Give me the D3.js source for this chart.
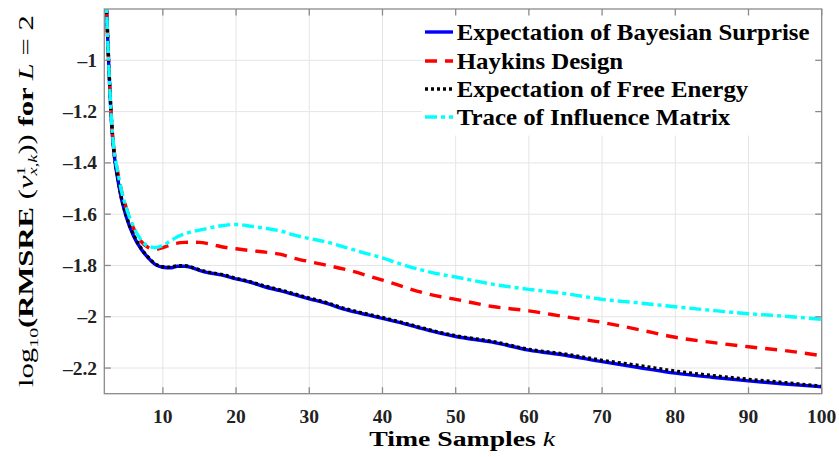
<!DOCTYPE html>
<html><head><meta charset="utf-8">
<script src="https://cdn.jsdelivr.net/npm/d3@7/dist/d3.min.js"></script>
<style>html,body{margin:0;padding:0;background:#fff;}svg{display:block;}</style>
</head><body>
<svg id="c" width="839" height="457"></svg>
<script>
const kVals = [2,3,4,5,6,7,8,9,10,11,12,13,14,15,16,17,18,20,22,24,26,28,30,32,35,38,40,42,45,48,50,55,60,65,70,75,80,85,90,95,100];
const bayesSurprise = [-0.55,-1.25,-1.49,-1.61,-1.685,-1.735,-1.77,-1.797,-1.807,-1.809,-1.803,-1.803,-1.809,-1.819,-1.827,-1.832,-1.837,-1.852,-1.866,-1.884,-1.898,-1.914,-1.93,-1.945,-1.972,-1.993,-2.006,-2.02,-2.043,-2.065,-2.077,-2.099,-2.13,-2.15,-2.175,-2.198,-2.22,-2.236,-2.25,-2.262,-2.273];
const haykins = [-0.55,-1.24,-1.46,-1.575,-1.655,-1.705,-1.73,-1.738,-1.73,-1.72,-1.713,-1.71,-1.709,-1.71,-1.714,-1.72,-1.727,-1.735,-1.742,-1.748,-1.756,-1.772,-1.785,-1.797,-1.816,-1.84,-1.857,-1.875,-1.902,-1.922,-1.932,-1.96,-1.977,-2.0,-2.022,-2.05,-2.08,-2.1,-2.117,-2.132,-2.152];
const freeEnergy = [-0.55,-1.24,-1.485,-1.605,-1.68,-1.732,-1.768,-1.795,-1.805,-1.807,-1.801,-1.801,-1.807,-1.817,-1.825,-1.83,-1.835,-1.85,-1.864,-1.881,-1.895,-1.911,-1.927,-1.942,-1.969,-1.99,-2.003,-2.017,-2.04,-2.062,-2.074,-2.096,-2.127,-2.146,-2.17,-2.19,-2.212,-2.229,-2.244,-2.257,-2.271];
const influence = [-0.55,-1.24,-1.46,-1.575,-1.65,-1.7,-1.725,-1.73,-1.722,-1.705,-1.688,-1.677,-1.668,-1.662,-1.656,-1.65,-1.645,-1.64,-1.647,-1.655,-1.665,-1.682,-1.695,-1.706,-1.73,-1.755,-1.77,-1.79,-1.815,-1.835,-1.845,-1.873,-1.893,-1.91,-1.932,-1.946,-1.961,-1.975,-1.988,-1.998,-2.01];
const seriesNames = ["Expectation of Bayesian Surprise","Haykins Design","Expectation of Free Energy","Trace of Influence Matrix"];
const xTicks = [10,20,30,40,50,60,70,80,90,100];
const yTicks = [-2.2,-2,-1.8,-1.6,-1.4,-1.2,-1];
const yTickLabels = ["–2.2","–2","–1.8","–1.6","–1.4","–1.2","–1"];

const series = [
  {name: seriesNames[0], vals: bayesSurprise, color: "#0000ff", dash: null},
  {name: seriesNames[1], vals: haykins, color: "#ff0000", dash: "12,8"},
  {name: seriesNames[2], vals: freeEnergy, color: "#000000", dash: "3,3"},
  {name: seriesNames[3], vals: influence, color: "#00ffff", dash: "12,4,4,4"}
];

const L = 104.3, R = 821.7, T = 9, B = 393.7;
const x = d3.scaleLinear().domain([2,100]).range([L,R]);
const y = d3.scaleLinear().domain([-2.3,-0.8]).range([B,T]);
const svg = d3.select("#c");
const serif = "'Liberation Serif','Times New Roman',serif";

svg.append("defs").append("clipPath").attr("id","clip")
  .append("rect").attr("x",L).attr("y",T).attr("width",R-L).attr("height",B-T);

// grid
const grid = svg.append("g").attr("stroke","#e5e5e5").attr("stroke-width",1);
grid.selectAll("line.v").data(xTicks.filter(d=>d<100)).enter().append("line")
  .attr("x1",d=>x(d)).attr("x2",d=>x(d)).attr("y1",T).attr("y2",B);
grid.selectAll("line.h").data(yTicks).enter().append("line")
  .attr("y1",d=>y(d)).attr("y2",d=>y(d)).attr("x1",L).attr("x2",R);

// lines
const line = d3.line().x((d,i)=>x(kVals[i])).y(d=>y(d)).curve(d3.curveMonotoneX);
const plot = svg.append("g").attr("clip-path","url(#clip)");
series.forEach(s=>{
  plot.append("path").datum(s.vals).attr("d",line)
    .attr("fill","none").attr("stroke",s.color).attr("stroke-width",3.4)
    .attr("stroke-dasharray",s.dash).attr("stroke-linejoin","round");
});

// legend
const lg = svg.append("g");
lg.append("rect").attr("x",422).attr("y",T+0.5).attr("width",R-422).attr("height",135-T).attr("fill","#fff");
const rowY = [32,61,89,117];
const texts = [];
series.forEach((s,i)=>{
  lg.append("line").attr("x1",425).attr("x2",453).attr("y1",rowY[i]).attr("y2",rowY[i])
    .attr("stroke",s.color).attr("stroke-width",3.4).attr("stroke-dasharray",s.dash);
  const g = lg.append("g").attr("transform",`translate(456.7,${rowY[i]+7.5})`);
  const t = g.append("text").attr("font-family",serif).attr("font-weight","bold")
    .attr("font-size",22.5).attr("fill","#000").text(s.name);
  texts.push(t);
});
const w0 = texts[0].node().getComputedTextLength();
const sxL = 353/w0;
texts.forEach(t=>t.attr("transform",`scale(${sxL},1)`));

// axes box
const ax = svg.append("g");
ax.append("rect").attr("x",L).attr("y",T).attr("width",R-L).attr("height",B-T)
  .attr("fill","none").attr("stroke","#8a8a8a").attr("stroke-width",1.3);
const tl = 6.5;
xTicks.forEach(d=>{
  ax.append("line").attr("x1",x(d)).attr("x2",x(d)).attr("y1",B).attr("y2",B-tl).attr("stroke","#8a8a8a").attr("stroke-width",1.3);
  ax.append("line").attr("x1",x(d)).attr("x2",x(d)).attr("y1",T).attr("y2",T+tl).attr("stroke","#8a8a8a").attr("stroke-width",1.3);
});
yTicks.forEach(d=>{
  ax.append("line").attr("x1",L).attr("x2",L+tl).attr("y1",y(d)).attr("y2",y(d)).attr("stroke","#8a8a8a").attr("stroke-width",1.3);
  ax.append("line").attr("x1",R).attr("x2",R-tl).attr("y1",y(d)).attr("y2",y(d)).attr("stroke","#8a8a8a").attr("stroke-width",1.3);
});
// tick labels
ax.selectAll("text.xt").data(xTicks).enter().append("text")
  .attr("x",d=>x(d)).attr("y",423).attr("text-anchor","middle")
  .attr("font-family",serif).attr("font-weight","bold").attr("font-size",19.5).attr("fill","#222")
  .text(d=>d);
ax.selectAll("text.yt").data(yTicks).enter().append("text")
  .attr("x",97).attr("y",d=>y(d)+6.5).attr("text-anchor","end")
  .attr("font-family",serif).attr("font-weight","bold").attr("font-size",19.5).attr("fill","#222")
  .text((d,i)=>yTickLabels[i]);

// x label
const xg = svg.append("g").attr("transform","translate(369.3,446)");
const xt = xg.append("text").attr("font-family",serif).attr("font-size",22).attr("fill","#000");
xt.append("tspan").attr("font-weight","bold").text("Time Samples ");
xt.append("tspan").attr("font-style","italic").text("k");
const xw = xt.node().getComputedTextLength();
xt.attr("transform",`scale(${186/xw},1)`);

// y label
const yg = svg.append("g").attr("transform","translate(33,387) rotate(-90)");
const yt = yg.append("text").attr("font-family",serif).attr("font-size",20).attr("fill","#000");
yt.append("tspan").text("log");
yt.append("tspan").attr("font-size",13).attr("dy",5).text("10");
yt.append("tspan").attr("font-weight","bold").attr("dy",-5).text("(RMSRE");
yt.append("tspan").text(" (");
yt.append("tspan").attr("font-style","italic").text("v");
yt.append("tspan").attr("font-size",12).attr("dy",-8).text("1");
yt.append("tspan").attr("font-size",12).attr("font-style","italic").attr("dx",-6).attr("dy",12).text("x,k");
yt.append("tspan").attr("dy",-4).text("))");
yt.append("tspan").attr("font-weight","bold").text(" for ");
yt.append("tspan").attr("font-style","italic").text("L");
yt.append("tspan").text(" = 2");
const yw = yt.node().getBBox().width;
yt.attr("transform",`scale(${372/yw},1)`);
</script>
</body></html>
